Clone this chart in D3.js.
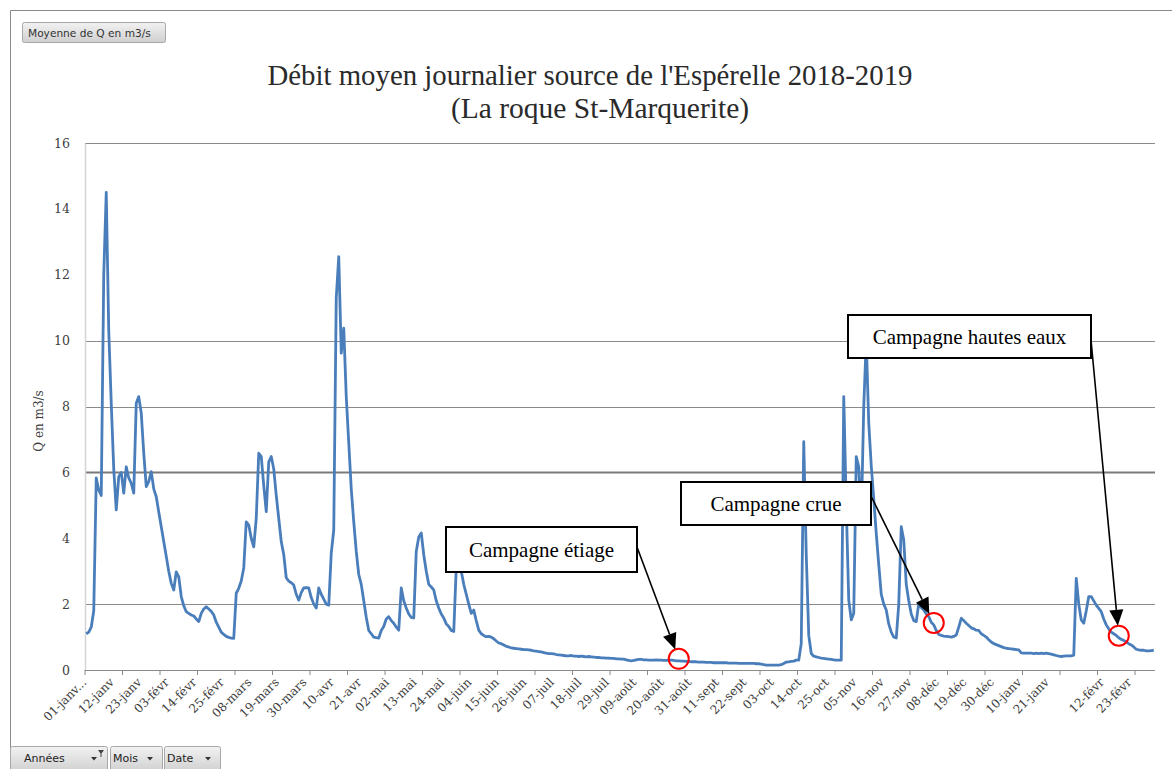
<!DOCTYPE html>
<html><head><meta charset="utf-8">
<script src="https://cdn.jsdelivr.net/npm/d3@7"></script>
<style>body{margin:0;background:#fff;overflow:hidden}svg{display:block}</style>
</head><body>
<svg id="chart" width="1172" height="769"></svg>
<script>
// ---------- DATA ----------
const firstDay = "2018-01-01";
const dailyQ = [
1.1,1.15,1.3,1.8,5.83,5.46,5.3,12.0,14.5,10.3,
8.1,6.1,4.86,5.87,6.0,5.37,6.17,5.83,5.67,5.37,
8.1,8.3,7.8,6.58,5.57,5.72,6.02,5.5,5.26,4.8,
4.35,3.9,3.45,3.0,2.63,2.43,2.98,2.83,2.23,1.95,
1.77,1.72,1.67,1.64,1.55,1.47,1.72,1.85,1.92,1.85,
1.78,1.67,1.45,1.3,1.15,1.08,1.02,0.99,0.97,0.96,
2.33,2.48,2.7,3.1,4.5,4.4,4.0,3.74,4.6,6.58,
6.48,5.6,4.81,6.32,6.48,6.1,5.3,4.6,3.9,3.5,
2.8,2.7,2.65,2.58,2.3,2.12,2.35,2.49,2.5,2.49,
2.2,2.0,1.88,2.49,2.3,2.15,2.0,1.97,3.55,4.25,
11.3,12.55,9.62,10.38,8.3,6.9,5.5,4.5,3.6,2.9,
2.6,2.1,1.6,1.2,1.1,1.0,0.98,0.97,1.2,1.32,
1.55,1.62,1.5,1.42,1.3,1.21,2.49,2.1,1.88,1.7,
1.6,1.58,3.6,4.04,4.16,3.5,3.0,2.6,2.52,2.43,
2.1,1.88,1.7,1.58,1.4,1.32,1.2,1.17,3.1,3.04,
3.0,2.6,2.3,2.0,1.72,1.82,1.5,1.21,1.1,1.05,
1.01,1.02,1.0,0.95,0.88,0.82,0.8,0.76,0.72,0.7,
0.67,0.66,0.65,0.64,0.63,0.62,0.62,0.61,0.6,0.58,
0.57,0.56,0.55,0.53,0.51,0.5,0.5,0.49,0.47,0.46,
0.45,0.44,0.43,0.43,0.44,0.42,0.42,0.41,0.42,0.41,
0.4,0.41,0.4,0.39,0.38,0.38,0.37,0.37,0.36,0.36,
0.35,0.35,0.34,0.34,0.33,0.33,0.31,0.29,0.28,0.29,
0.31,0.32,0.32,0.31,0.31,0.3,0.3,0.3,0.31,0.3,
0.3,0.29,0.29,0.3,0.3,0.29,0.28,0.28,0.27,0.27,
0.26,0.26,0.25,0.25,0.25,0.24,0.24,0.24,0.23,0.23,
0.23,0.22,0.22,0.22,0.22,0.22,0.22,0.21,0.21,0.21,
0.21,0.2,0.2,0.2,0.2,0.2,0.2,0.2,0.19,0.19,
0.18,0.16,0.15,0.15,0.15,0.15,0.15,0.15,0.16,0.2,
0.24,0.25,0.26,0.27,0.3,0.3,0.8,6.93,3.5,1.05,
0.5,0.42,0.4,0.38,0.36,0.35,0.34,0.33,0.32,0.31,
0.3,0.3,0.3,8.3,5.0,2.12,1.52,1.72,6.48,6.17,
4.5,8.0,10.0,7.5,6.2,5.2,4.15,3.2,2.3,2.0,
1.82,1.4,1.15,1.0,0.97,2.0,4.35,3.95,2.6,2.1,
1.7,1.5,1.47,2.02,1.9,1.82,1.7,1.62,1.45,1.37,
1.2,1.08,1.05,1.03,1.02,1.01,1.0,1.02,1.06,1.3,
1.57,1.5,1.42,1.35,1.28,1.25,1.21,1.2,1.1,1.05,
1.0,0.92,0.85,0.8,0.77,0.74,0.71,0.68,0.66,0.65,
0.64,0.63,0.62,0.61,0.52,0.51,0.51,0.51,0.51,0.5,
0.51,0.5,0.51,0.5,0.51,0.5,0.48,0.46,0.44,0.42,
0.41,0.42,0.43,0.43,0.43,0.45,2.78,2.0,1.52,1.42,
1.8,2.23,2.23,2.1,1.97,1.87,1.77,1.55,1.37,1.25,
1.15,1.1,1.05,0.98,0.93,0.9,0.85,0.8,0.76,0.7,
0.63,0.61,0.6,0.6,0.58,0.58,0.59,0.6
];
const xTickLabels = ["01-janv...","12-janv","23-janv","03-févr","14-févr","25-févr","08-mars","19-mars","30-mars","10-avr","21-avr","02-mai","13-mai","24-mai","04-juin","15-juin","26-juin","07-juil","18-juil","29-juil","09-août","20-août","31-août","11-sept","22-sept","03-oct","14-oct","25-oct","05-nov","16-nov","27-nov","08-déc","19-déc","30-déc","10-janv","21-janv","","12-févr","23-févr"];
const labelEvery = 11;
const tickEvery = 15;
const yTickValues = [0,2,4,6,8,10,12,14,16];
const gridValues = [2,6,8,10,16];
const campaigns = [
  {label:"Campagne étiage", day:237},
  {label:"Campagne crue", day:339},
  {label:"Campagne hautes eaux", day:413}
];
const titleLines = ["Débit moyen journalier source de l'Espérelle 2018-2019","(La roque St-Marquerite)"];
const yTitle = "Q en m3/s";

// ---------- LAYOUT ----------
const svg = d3.select("#chart");
const L = 85, R = 1155, T = 143, B = 670;
const days = dailyQ.map((v,i)=>i);
const x = d3.scaleBand().domain(days).range([L,R]).padding(0);
const xc = i => x(i) + x.bandwidth()/2;
const y = d3.scaleLinear().domain([0,16]).range([B,T]);

// outer frame
svg.append("path").attr("d","M10.5,769 V10.5 H1172").attr("fill","none").attr("stroke","#8a8a8a").attr("stroke-width",1);

// defs gradient for buttons
const defs = svg.append("defs");
const g1 = defs.append("linearGradient").attr("id","btn").attr("x1",0).attr("y1",0).attr("x2",0).attr("y2",1);
g1.append("stop").attr("offset","0%").attr("stop-color","#f2f2f2");
g1.append("stop").attr("offset","100%").attr("stop-color","#cfcfcf");

// top button
svg.append("rect").attr("x",22.5).attr("y",22.5).attr("width",143).attr("height",20).attr("rx",2)
  .attr("fill","url(#btn)").attr("stroke","#a8a8a8");
svg.append("text").attr("x",28).attr("y",36.5).attr("font-family","DejaVu Sans").attr("font-size",10.6)
  .attr("fill","#333").text("Moyenne de Q en m3/s");

// title
svg.append("text").attr("x",590).attr("y",85).attr("text-anchor","middle")
  .attr("font-family","Liberation Serif").attr("font-size",28.8).attr("fill","#2a2a2a").text(titleLines[0]);
svg.append("text").attr("x",600).attr("y",118).attr("text-anchor","middle")
  .attr("font-family","Liberation Serif").attr("font-size",29.5).attr("fill","#2a2a2a").text(titleLines[1]);

// gridlines
svg.append("g").selectAll("line").data(gridValues).join("line")
  .attr("x1",L).attr("x2",R).attr("y1",d=>Math.round(y(d))+0.5).attr("y2",d=>Math.round(y(d))+0.5)
  .attr("stroke",d=>d===6?"#7a7a7a":"#8a8a8a").attr("stroke-width",d=>d===6?2:1);

// y axis
const yAxis = d3.axisLeft(y).tickValues(yTickValues).tickSize(0).tickPadding(15);
const gy = svg.append("g").attr("transform",`translate(${L},0)`).call(yAxis);
gy.select(".domain").attr("stroke","#d4d4d4").attr("stroke-width",1.5);
gy.selectAll("text").attr("font-family","DejaVu Serif").attr("font-size",12.5).attr("fill","#404040");

svg.append("text").attr("transform","translate(43,421) rotate(-90)").attr("text-anchor","middle")
  .attr("font-family","DejaVu Serif").attr("font-size",12).attr("fill","#404040").text(yTitle);

// x axis
const tickDays = days.filter(i=>i%tickEvery===0);
const xAxis = d3.axisBottom(x).tickValues(tickDays).tickSize(5).tickFormat("");
const gx = svg.append("g").attr("transform",`translate(0,${B})`).call(xAxis);
gx.select(".domain").attr("stroke","#8a8a8a").attr("d",`M${L},0.5H${R}`);
gx.selectAll(".tick line").attr("stroke","#8a8a8a").attr("transform",`translate(${-x.bandwidth()/2},0)`);

svg.append("g").selectAll("text").data(xTickLabels).join("text")
  .attr("text-anchor","end")
  .attr("transform",(d,k)=>`translate(${xc(k*labelEvery)+1},${B+13}) rotate(-45)`)
  .attr("font-family","DejaVu Serif").attr("font-size",12).attr("fill","#404040")
  .text(d=>d);

// line
const line = d3.line().x((d,i)=>xc(i)).y(d=>y(d));
svg.append("path").datum(dailyQ).attr("d",line).attr("fill","none")
  .attr("stroke","#4a7ebb").attr("stroke-width",2.8).attr("stroke-linejoin","round");

// annotations
const boxes = [
  {x:446,y:527,w:191,h:45, sx:637, sy:547},
  {x:681,y:482,w:190,h:43, sx:871, sy:496},
  {x:848,y:315,w:243,h:43, sx:1091, sy:340}
];
const r = 10;
campaigns.forEach((c,k)=>{
  const b = boxes[k];
  const cx = xc(c.day), cy = y(dailyQ[c.day]) - 2;
  svg.append("circle").attr("cx",cx).attr("cy",cy).attr("r",r).attr("fill","none").attr("stroke","#ff0000").attr("stroke-width",2);
  svg.append("rect").attr("x",b.x).attr("y",b.y).attr("width",b.w).attr("height",b.h)
    .attr("fill","#fff").attr("stroke","#000").attr("stroke-width",2);
  svg.append("text").attr("x",b.x+b.w/2).attr("y",b.y+b.h/2+7).attr("text-anchor","middle")
    .attr("font-family","Liberation Serif").attr("font-size",21).attr("fill","#000").text(c.label);
  // arrow
  const dx = cx-b.sx, dy = cy-b.sy, len = Math.hypot(dx,dy);
  const ux = dx/len, uy = dy/len;
  const tx = cx-ux*r, ty = cy-uy*r;
  const hl = 16, hw = 7;
  const bx = tx-ux*hl, by = ty-uy*hl;
  svg.append("line").attr("x1",b.sx).attr("y1",b.sy).attr("x2",bx).attr("y2",by).attr("stroke","#000").attr("stroke-width",1.6);
  svg.append("path").attr("d",`M${tx},${ty}L${bx-uy*hw},${by+ux*hw}L${bx+uy*hw},${by-ux*hw}Z`).attr("fill","#000");
});

// bottom field buttons
const fieldBtns = [{t:"Années",x:10,w:97,filter:true},{t:"Mois",x:110,w:52},{t:"Date",x:164,w:56}];
fieldBtns.forEach(f=>{
  svg.append("rect").attr("x",f.x+0.5).attr("y",746.5).attr("width",f.w).attr("height",26).attr("rx",2)
    .attr("fill","url(#btn)").attr("stroke","#a8a8a8");
  svg.append("text").attr("x",f.x+(f.filter?14:3)).attr("y",762).attr("font-family","DejaVu Sans").attr("font-size",11)
    .attr("fill","#222").text(f.t);
  const ax = f.x+f.w-(f.filter?13:12);
  svg.append("path").attr("d",`M${ax-3},757 L${ax+3},757 L${ax},760.5Z`).attr("fill","#333");
  if(f.filter){
    svg.append("path").attr("d",`M${ax+4},750 L${ax+10},750 L${ax+7.5},753.5 L${ax+7.5},757 L${ax+6.5},757 L${ax+6.5},753.5Z`).attr("fill","#444");
  }
});
</script>
</body></html>
